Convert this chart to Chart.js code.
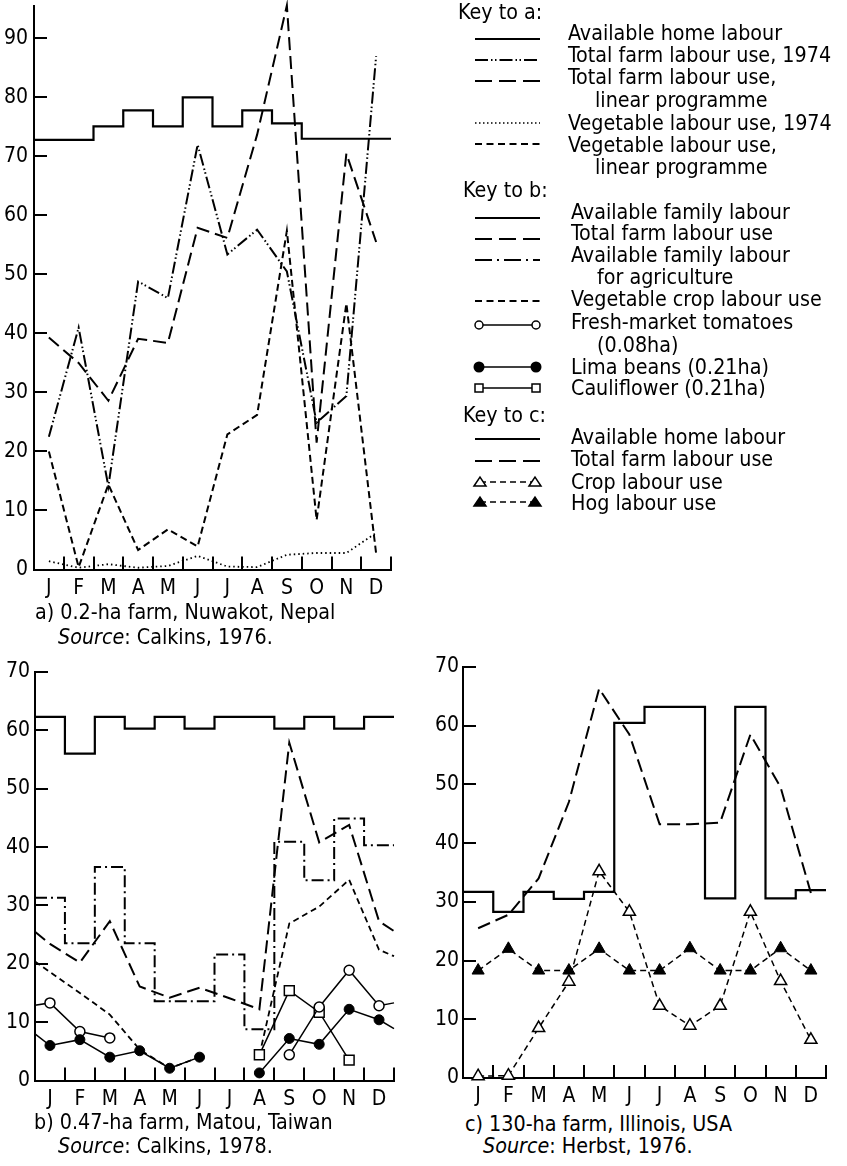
<!DOCTYPE html>
<html><head><meta charset="utf-8">
<script src="https://cdn.jsdelivr.net/npm/chart.js@4.4.1/dist/chart.umd.min.js"></script>
<style>
html,body{margin:0;padding:0;background:#fff;}
body{width:847px;height:1166px;position:relative;overflow:hidden;font-family:"DejaVu Sans Condensed","Liberation Sans Narrow",sans-serif;color:#000;}
canvas{position:absolute;}
.t{position:absolute;font-size:21.3px;line-height:24px;white-space:nowrap;}
</style></head><body>
<canvas id="ca" width="420" height="600" style="left:0;top:0"></canvas>
<canvas id="cb" width="420" height="470" style="left:0;top:640px"></canvas>
<canvas id="cc" width="427" height="470" style="left:420px;top:640px"></canvas>

<svg width="847" height="520" style="position:absolute;left:0;top:0" stroke="#000" fill="none" stroke-width="2">
  <line x1="475" y1="39" x2="540" y2="39"/>
  <line x1="475" y1="60" x2="540" y2="60" stroke-dasharray="13 3 1.5 2.5 1.5 3"/>
  <line x1="475" y1="81" x2="540" y2="81" stroke-dasharray="17 7"/>
  <line x1="475" y1="123" x2="540" y2="123" stroke-dasharray="1.5 2.5" stroke-width="1.6"/>
  <line x1="475" y1="144" x2="540" y2="144" stroke-dasharray="7 4.5"/>
  <line x1="475" y1="218" x2="540" y2="218"/>
  <line x1="475" y1="239" x2="540" y2="239" stroke-dasharray="17 7"/>
  <line x1="475" y1="260" x2="540" y2="260" stroke-dasharray="17 5 2 5"/>
  <line x1="475" y1="301" x2="540" y2="301" stroke-dasharray="7 4.5"/>
  <line x1="479" y1="325" x2="536" y2="325" stroke-width="1.5"/>
  <circle cx="479" cy="325" r="4" fill="#fff" stroke-width="1.5"/><circle cx="536" cy="325" r="4" fill="#fff" stroke-width="1.5"/>
  <line x1="479" y1="367" x2="536" y2="367" stroke-width="1.5"/>
  <circle cx="479" cy="367" r="4.5" fill="#000"/><circle cx="536" cy="367" r="4.5" fill="#000"/>
  <line x1="479" y1="388" x2="536" y2="388" stroke-width="1.5"/>
  <rect x="475" y="384" width="8" height="8" fill="#fff" stroke-width="1.5"/><rect x="532" y="384" width="8" height="8" fill="#fff" stroke-width="1.5"/>
  <line x1="475" y1="439" x2="540" y2="439"/>
  <line x1="475" y1="461" x2="540" y2="461" stroke-dasharray="17 7"/>
  <line x1="480" y1="482" x2="535" y2="482" stroke-dasharray="6 4" stroke-width="1.5"/>
  <polygon points="474,486 480,477 486,486" fill="#fff" stroke-width="1.5"/><polygon points="529,486 535,477 541,486" fill="#fff" stroke-width="1.5"/>
  <line x1="480" y1="502" x2="535" y2="502" stroke-dasharray="6 4" stroke-width="1.5"/>
  <polygon points="474,506 480,497 486,506" fill="#000" stroke-width="1.5"/><polygon points="529,506 535,497 541,506" fill="#000" stroke-width="1.5"/>
</svg>

<div class="t" style="left:458px;top:0px">Key to a:</div>
<div class="t" style="left:568px;top:21px">Available home labour</div>
<div class="t" style="left:568px;top:43px">Total farm labour use, 1974</div>
<div class="t" style="left:568px;top:65px">Total farm labour use,</div>
<div class="t" style="left:595px;top:88px">linear programme</div>
<div class="t" style="left:568px;top:111px">Vegetable labour use, 1974</div>
<div class="t" style="left:568px;top:133px">Vegetable labour use,</div>
<div class="t" style="left:595px;top:155px">linear programme</div>
<div class="t" style="left:463px;top:178px">Key to b:</div>
<div class="t" style="left:571px;top:200px">Available family labour</div>
<div class="t" style="left:571px;top:221px">Total farm labour use</div>
<div class="t" style="left:571px;top:243px">Available family labour</div>
<div class="t" style="left:597px;top:265px">for agriculture</div>
<div class="t" style="left:571px;top:287px">Vegetable crop labour use</div>
<div class="t" style="left:571px;top:310px">Fresh-market tomatoes</div>
<div class="t" style="left:597px;top:333px">(0.08ha)</div>
<div class="t" style="left:571px;top:355px">Lima beans (0.21ha)</div>
<div class="t" style="left:571px;top:376px">Cauliflower (0.21ha)</div>
<div class="t" style="left:463px;top:403px">Key to c:</div>
<div class="t" style="left:571px;top:425px">Available home labour</div>
<div class="t" style="left:571px;top:447px">Total farm labour use</div>
<div class="t" style="left:571px;top:470px">Crop labour use</div>
<div class="t" style="left:571px;top:491px">Hog labour use</div>

<div class="t" style="left:35px;top:600px">a) 0.2-ha farm, Nuwakot, Nepal</div>
<div class="t" style="left:58px;top:625px"><i>Source</i>: Calkins, 1976.</div>
<div class="t" style="left:34px;top:1110px">b) 0.47-ha farm, Matou, Taiwan</div>
<div class="t" style="left:58px;top:1134px"><i>Source</i>: Calkins, 1978.</div>
<div class="t" style="left:465px;top:1112px">c) 130-ha farm, Illinois, USA</div>
<div class="t" style="left:483px;top:1134px"><i>Source</i>: Herbst, 1976.</div>

<script>
// ---------- data ----------
const months = ['J','F','M','A','M','J','J','A','S','O','N','D'];

// a) 0.2-ha farm, Nuwakot, Nepal
const aYTicks = [10,20,30,40,50,60,70,80,90];
const aHomeLabour  = [72.8,72.8,75.1,77.8,75.1,80.0,75.1,77.8,75.6,73.0,73.0,73.0];
const aTotal1974   = [22.5,41.0,14.1,48.8,46.0,72.0,53.4,57.6,50.5,24.9,29.4,87.0];
const aTotalLP     = [39.3,35.0,28.6,39.1,38.4,57.9,56.2,73.7,95.6,21.5,70.5,55.5];
const aVeg1974     = [1.4,0.3,0.9,0.3,0.6,2.3,0.5,0.4,2.5,2.8,2.8,6.2];
const aVegLP       = [20.0,0.4,14.4,3.3,6.8,3.9,22.9,26.2,57.4,8.4,45.1,2.7];

// b) 0.47-ha farm, Matou, Taiwan  (edge values = where lines meet the frame)
const bYTicks = [10,20,30,40,50,60,70];
const bFamilyLabour = [62.3,56.0,62.3,60.3,62.3,60.3,62.3,62.3,60.3,62.3,60.3,62.3];
const bFamilyAgri   = [31.3,23.5,36.6,23.5,13.6,13.6,21.6,8.8,40.9,34.3,44.9,40.3];
const bTotalEdges = [25.5, 25.6];
const bTotal        = [23.4,20.2,27.3,16.1,14.2,15.9,14.1,12.2,57.9,40.8,43.8,27.3];
const bVegEdges = [20.4, 21.3];
const bVeg          = [18.6,15.0,11.3,5.3,2.1,4.0,null,4.3,26.9,29.8,34.4,22.4];
const bTomatoEdges = [12.9, 13.3];
const bTomato       = [13.3,8.4,7.3,null,null,null,null,null,4.4,12.6,18.9,12.8];
const bLimaEdges = [8.0, 8.9];
const bLima         = [6.0,7.0,4.0,5.1,2.1,4.0,null,1.3,7.2,6.2,12.2,10.4];
const bCauli        = [null,null,null,null,null,null,null,4.4,15.4,11.7,3.5,null];

// c) 130-ha farm, Illinois, USA
const cYTicks = [10,20,30,40,50,60,70];
const cHomeLabour = [31.7,28.3,31.7,30.5,31.7,60.5,63.2,63.2,30.6,63.2,30.6,32.0];
const cTotal      = [25.5,27.8,34.0,47.0,66.3,58.5,43.2,43.2,43.5,58.5,49.5,31.5];
const cCrop       = [0.3,0.4,8.5,16.4,35.2,28.3,12.3,8.9,12.3,28.3,16.5,6.5];
const cHog        = [18.3,22.0,18.3,18.3,22.0,18.3,18.3,22.1,18.3,18.3,22.1,18.3];

// ---------- helpers ----------
const centers = vals => vals.map((v,i)=>({x:i+0.5,y:v}));
const steps = vals => vals.map((v,i)=>({x:i,y:v})).concat([{x:vals.length,y:vals[vals.length-1]}]);
const withEdges = (edges, vals) => [{x:0,y:edges[0]}, ...centers(vals), {x:12,y:edges[1]}];
const edgeless = r => ctx => (ctx.raw && (ctx.raw.x===0 || ctx.raw.x===12)) ? 0 : r;

const FONT = '"DejaVu Sans Condensed", "Liberation Sans Narrow", sans-serif';
Chart.defaults.font.family = FONT;
Chart.defaults.font.size = 21;
Chart.defaults.color = '#000';

const inwardTicks = {
  id: 'inwardTicks',
  afterDatasetsDraw(chart, args, opts) {
    const {ctx, chartArea, scales:{x, y}} = chart;
    ctx.save();
    ctx.strokeStyle = '#000';
    ctx.lineWidth = 2;
    ctx.beginPath();
    for (let m = 1; m <= 12; m++) {
      const px = Math.round(x.getPixelForValue(m));
      ctx.moveTo(px, chartArea.bottom);
      ctx.lineTo(px, chartArea.bottom - opts.len);
    }
    for (const v of opts.yTicks) {
      const py = Math.round(y.getPixelForValue(v));
      ctx.moveTo(chartArea.left, py);
      ctx.lineTo(chartArea.left + opts.len, py);
    }
    ctx.stroke();
    ctx.restore();
  }
};

function options(cfg) {
  return {
    responsive: false, animation: false, devicePixelRatio: 1,
    layout: {padding: {left: 0, right: cfg.padRight, top: cfg.padTop, bottom: 0}},
    plugins: {legend: {display: false}, tooltip: {enabled: false},
              inwardTicks: {yTicks: cfg.yTicks, len: 13}},
    elements: {line: {tension: 0, borderCapStyle: 'butt', borderColor: '#000', borderWidth: 2},
               point: {radius: 0}},
    scales: {
      x: {type: 'linear', min: 0, max: 12,
          grid: {display: false, drawTicks: false},
          border: {display: true, color: '#000', width: 2},
          afterBuildTicks: s => { s.ticks = months.map((m,i)=>({value: i+0.5})); },
          ticks: {autoSkip: false, maxRotation: 0, padding: cfg.xPad,
                  callback: v => months[Math.floor(v)]},
          afterFit: s => { s.height = cfg.xH; s.paddingLeft = 0; s.paddingRight = 0; }},
      y: {type: 'linear', min: 0, max: cfg.yMax, bounds: 'data',
          grid: {display: false, drawTicks: false},
          border: {display: true, color: '#000', width: 2},
          ticks: {stepSize: 10, includeBounds: false, padding: cfg.yPad},
          afterFit: s => { s.width = cfg.yW; s.paddingTop = 0; s.paddingBottom = 0; }}
    }
  };
}

const line = (data, extra) => Object.assign({data, borderColor:'#000', borderWidth:2, pointRadius:0, fill:false, clip:false}, extra||{});

// ---------- chart a ----------
new Chart(document.getElementById('ca'), {
  type: 'line',
  data: {datasets: [
    line(steps(aHomeLabour), {stepped: 'before', borderWidth: 2.2}),
    line(centers(aTotal1974), {borderDash: [12,3,1.5,2.5,1.5,3]}),
    line(centers(aTotalLP), {borderDash: [13,6]}),
    line(centers(aVeg1974), {borderDash: [1.5,3], borderWidth: 1.8}),
    line(centers(aVegLP), {borderDash: [7,4]})
  ]},
  options: options({padRight: 29, padTop: 6, xH: 30.5, yW: 34, yMax: 95.5, yTicks: aYTicks, xPad: 6, yPad: 6}),
  plugins: [inwardTicks]
});

// ---------- chart b ----------
new Chart(document.getElementById('cb'), {
  type: 'line',
  data: {datasets: [
    line(withEdges(bLimaEdges, bLima), {borderWidth: 1.5, pointStyle: 'circle', pointRadius: edgeless(5),
         pointBackgroundColor: '#000', pointBorderColor: '#000', pointBorderWidth: 1}),
    line(withEdges(bTomatoEdges, bTomato), {borderWidth: 1.5, pointStyle: 'circle', pointRadius: edgeless(5),
         pointBackgroundColor: '#fff', pointBorderColor: '#000', pointBorderWidth: 1.5}),
    line(centers(bCauli), {borderWidth: 1.5, pointStyle: 'rect', pointRadius: 7,
         pointBackgroundColor: '#fff', pointBorderColor: '#000', pointBorderWidth: 1.5}),
    line(withEdges(bVegEdges, bVeg), {borderDash: [6,4], borderWidth: 1.8}),
    line(withEdges(bTotalEdges, bTotal), {borderDash: [13,6]}),
    line(steps(bFamilyAgri), {stepped: 'before', borderDash: [12,4,2,4]}),
    line(steps(bFamilyLabour), {stepped: 'before', borderWidth: 2.2})
  ]},
  options: options({padRight: 26, padTop: 32, xH: 29.5, yW: 35, yMax: 70, yTicks: bYTicks, xPad: 6, yPad: 5}),
  plugins: [inwardTicks]
});

// ---------- chart c ----------
new Chart(document.getElementById('cc'), {
  type: 'line',
  data: {datasets: [
    line(centers(cHog), {borderDash: [6,4], borderWidth: 1.5, pointStyle: 'triangle', pointRadius: 7,
         pointBackgroundColor: '#000', pointBorderColor: '#000', pointBorderWidth: 1}),
    line(centers(cCrop), {borderDash: [6,4], borderWidth: 1.5, pointStyle: 'triangle', pointRadius: 7,
         pointBackgroundColor: '#fff', pointBorderColor: '#000', pointBorderWidth: 1.5}),
    line(centers(cTotal), {borderDash: [13,6]}),
    line(steps(cHomeLabour), {stepped: 'before', borderWidth: 2.2})
  ]},
  options: options({padRight: 21, padTop: 27, xH: 32, yW: 43, yMax: 70, yTicks: cYTicks, xPad: 6, yPad: 4}),
  plugins: [inwardTicks]
});
</script>
</body></html>
